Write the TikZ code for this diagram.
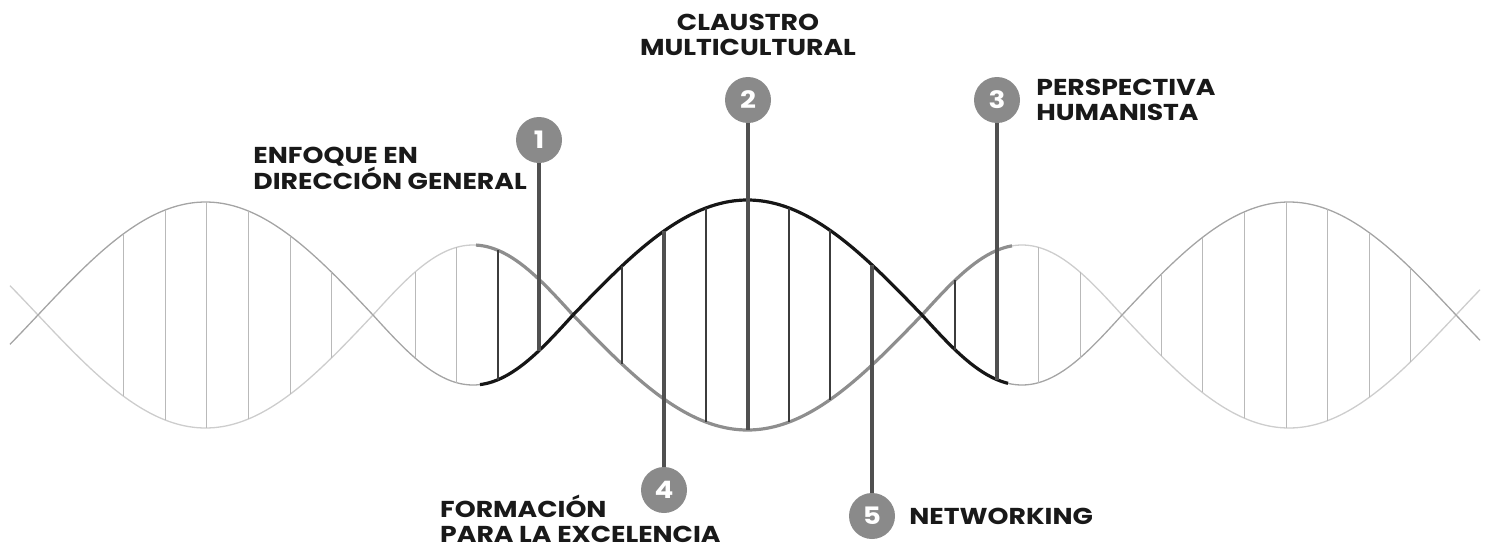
\documentclass[tikz,border=0pt]{standalone}
\usepackage{fontspec}
\setmainfont{Poppins}[FakeStretch=1.16]
\usepackage{tikz}
\usetikzlibrary{positioning}
\definecolor{helixblack}{RGB}{22,22,22}
\definecolor{helixmid}{RGB}{142,142,142}
\definecolor{helixpale}{RGB}{205,205,205}
\definecolor{rungdark}{RGB}{60,60,60}
\definecolor{dotgray}{RGB}{138,138,138}
\definecolor{labeldark}{RGB}{25,25,25}

% one lobe of a strand between two crossings
\newcommand{\lobe}[7]{%
  \draw[#1] plot[domain=#4:#5, samples=40, smooth] (\x, {315-(#7)*#6*sin(180/(#3-#2)*(\x-#2))});}

\begin{document}
\begin{tikzpicture}[x=1pt, y=-1pt,
  strandpale/.style={helixpale, line width=1.3pt},
  strandsoft/.style={helixmid!80, line width=1.3pt},
  strandbold/.style={helixblack, line width=3.2pt},
  strandgray/.style={helixmid, line width=3.2pt},
  rungpale/.style={helixpale!90!black, line width=1pt},
  rungdeep/.style={rungdark, line width=2.8pt},
  pin/.style={rungdark!90, line width=3.6pt},
  dot/.style={circle, fill=dotgray, minimum size=46pt, inner sep=0pt,
    text=white, font=\bfseries\fontsize{24}{24}\selectfont},
  tag/.style={text=labeldark, font=\bfseries\fontsize{23}{25}\selectfont, inner sep=0pt}]
\useasboundingbox (0,0) rectangle (1493,549);

% Pale strand (bottom on the left)
\lobe{strandpale}{38}{373}{10}{373}{113}{-1}
\lobe{strandpale}{373}{573}{373}{479}{70}{1}
\lobe{strandpale}{922}{1122}{1010}{1122}{70}{1}
\lobe{strandpale}{1122}{1456}{1122}{1480}{113}{-1}

% Soft strand (top on the left)
\lobe{strandsoft}{38}{373}{10}{373}{113}{1}
\lobe{strandsoft}{373}{573}{373}{482}{70}{-1}
\lobe{strandsoft}{922}{1122}{1006}{1122}{70}{-1}
\lobe{strandsoft}{1122}{1456}{1122}{1480}{113}{1}

% Highlighted middle part
\lobe{strandgray}{373}{573}{476}{573}{70}{1}
\lobe{strandgray}{573}{922}{573}{922}{115}{-1}
\lobe{strandgray}{922}{1122}{922}{1012}{70}{1}
\lobe{strandbold}{373}{573}{480}{573}{70}{-1}
\lobe{strandbold}{573}{922}{573}{922}{115}{1}
\lobe{strandbold}{922}{1122}{922}{1008}{70}{-1}

% Rungs
\foreach \xa/\xb/\amp/\rungs/\sty in {38/373/113/{123,165,206,248,290,331}/rungpale,
    373/573/70/{415,456}/rungpale, 373/573/70/{498}/rungdeep,
    573/922/115/{622,706,789,830}/rungdeep, 922/1122/70/{955}/rungdeep,
    922/1122/70/{1038,1080}/rungpale,
    1122/1456/113/{1161,1202,1244,1286,1327,1369,1410}/rungpale} {
  \foreach \r in \rungs {
    \pgfmathsetmacro\h{\amp*abs(sin(180/(\xb-\xa)*(\r-\xa)))}
    \draw[\sty] (\r,{315-\h}) -- (\r,{315+\h});
  }
}

% Numbered markers
\node[dot] (c1) at (539,140) {1};
\node[dot] (c2) at (748,100) {2};
\node[dot] (c3) at (997,100) {3};
\node[dot] (c4) at (664,490) {4};
\node[dot] (c5) at (872,516) {5};

% Ends of the pins on the strands
\coordinate (e1) at (539,351);
\coordinate (e2) at (748,430);
\coordinate (e3) at (997,380);
\coordinate (e4) at (664,231);
\coordinate (e5) at (872,265);

\draw[pin] (c1.south) -- (e1);
\draw[pin] (c2.south) -- (e2);
\draw[pin] (c3.south) -- (e3);
\draw[pin] (e4) -- (c4.north);
\draw[pin] (e5) -- (c5.north);

% Labels
\node[tag, align=left, anchor=east] (t1) at (527,168) {ENFOQUE EN\\DIRECCIÓN GENERAL};
\node[tag, align=center, above=21pt of c2] (t2) {CLAUSTRO\\MULTICULTURAL};
\node[tag, align=left, right=16pt of c3] (t3) {PERSPECTIVA\\HUMANISTA};
\node[tag, align=left, anchor=west] (t4) at (440,519) {FORMACIÓN\\PARA LA EXCELENCIA};
\node[tag, align=left, right=14pt of c5] (t5) {NETWORKING};
\end{tikzpicture}
\end{document}
